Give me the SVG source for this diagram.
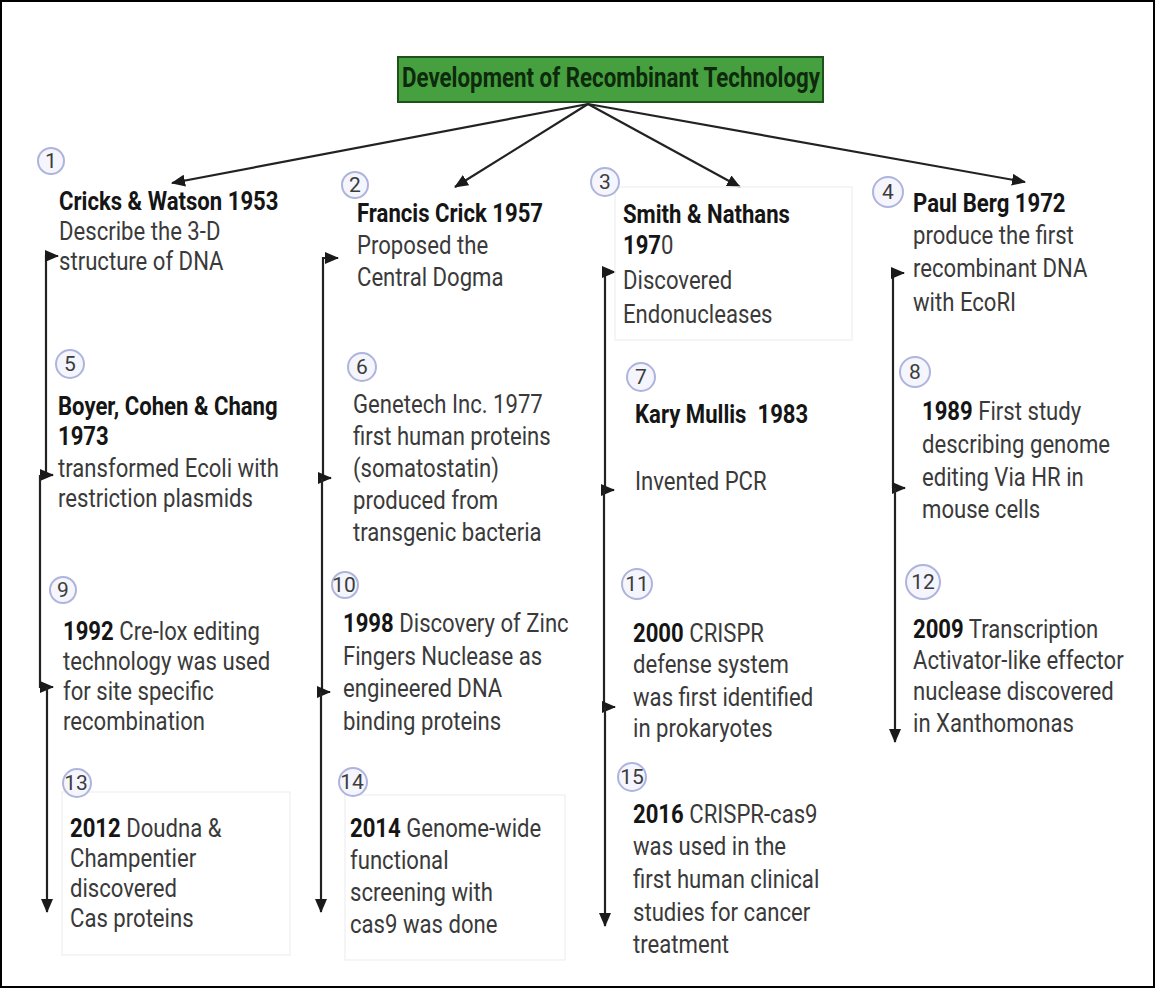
<svg xmlns="http://www.w3.org/2000/svg" width="1155" height="989" viewBox="0 0 1155 989">
<style>
.t{font-family:Roboto,"Liberation Sans",sans-serif;font-size:25px;fill:#3a3a3a}
.b{font-weight:bold;fill:#151515}
.num{font-family:Roboto,"Liberation Sans",sans-serif;font-size:21px;fill:#3c3c3c;text-anchor:middle}
.c{fill:#f4f5fd;stroke:#aeb4dc;stroke-width:2}
.faint{fill:none;stroke:#f2f2f2;stroke-width:1.5}
.ln{fill:none;stroke:#222;stroke-width:2.2}
</style>
<defs>
<marker id="arr" markerUnits="userSpaceOnUse" markerWidth="14" markerHeight="12" refX="13" refY="6" orient="auto">
<path d="M0,0 L14,6 L0,12 z" fill="#1a1a1a"/>
</marker>
</defs>
<rect x="1" y="1" width="1153" height="986" fill="#fff" stroke="#000" stroke-width="2"/>

<g id="title">
<rect x="398" y="57" width="425" height="45" fill="#46a040" stroke="#1d521b" stroke-width="2"/>
<text x="402" y="87" font-family="Roboto,'Liberation Sans',sans-serif" font-size="28" font-weight="bold" fill="#0e2a0c" textLength="418" lengthAdjust="spacingAndGlyphs">Development of Recombinant Technology</text>
</g>

<g id="connectors">
<path class="ln" d="M588,104 L172,183" marker-end="url(#arr)"/>
<path class="ln" d="M588,104 L455,187" marker-end="url(#arr)"/>
<path class="ln" d="M588,104 L740,187" marker-end="url(#arr)"/>
<path class="ln" d="M588,104 L1025,182" marker-end="url(#arr)"/>

<path class="ln" d="M46,475 V256 H58" marker-end="url(#arr)"/>
<path class="ln" d="M40,475 H53" marker-end="url(#arr)"/>
<path class="ln" d="M40,475 V687 H53" marker-end="url(#arr)"/>
<path class="ln" d="M47,687 V912" marker-end="url(#arr)"/>

<path class="ln" d="M323,478 V258 H338" marker-end="url(#arr)"/>
<path class="ln" d="M322,478 H331" marker-end="url(#arr)"/>
<path class="ln" d="M322,478 V692 H330" marker-end="url(#arr)"/>
<path class="ln" d="M321,692 V912" marker-end="url(#arr)"/>

<path class="ln" d="M605,490 V272 H615" marker-end="url(#arr)"/>
<path class="ln" d="M604,490 H614" marker-end="url(#arr)"/>
<path class="ln" d="M604,490 V707 H615" marker-end="url(#arr)"/>
<path class="ln" d="M605,707 V926" marker-end="url(#arr)"/>

<path class="ln" d="M893,488 V273 H904" marker-end="url(#arr)"/>
<path class="ln" d="M893,488 H905" marker-end="url(#arr)"/>
<path class="ln" d="M895,488 V742" marker-end="url(#arr)"/>
</g>

<g id="n1">
<circle class="c" cx="51" cy="161" r="13"/><text class="num" x="51" y="168">1</text>
<g transform="translate(59,0) scale(0.885,1)">
<text class="t b" x="0" y="210">Cricks &amp; Watson 1953</text>
<text class="t" x="0" y="240">Describe the 3-D</text>
<text class="t" x="0" y="270">structure of DNA</text>
</g>
</g>

<g id="n5">
<circle class="c" cx="70" cy="364" r="14"/><text class="num" x="70" y="371">5</text>
<g transform="translate(58,0) scale(0.885,1)">
<text class="t b" x="0" y="415">Boyer, Cohen &amp; Chang</text>
<text class="t b" x="0" y="445">1973</text>
<text class="t" x="0" y="477">transformed Ecoli with</text>
<text class="t" x="0" y="507">restriction plasmids</text>
</g>
</g>

<g id="n9">
<circle class="c" cx="63" cy="590" r="13"/><text class="num" x="63" y="597">9</text>
<g transform="translate(63,0) scale(0.885,1)">
<text class="t" x="0" y="640"><tspan class="b">1992</tspan> Cre-lox editing</text>
<text class="t" x="0" y="670">technology was used</text>
<text class="t" x="0" y="700">for site specific</text>
<text class="t" x="0" y="730">recombination</text>
</g>
</g>

<g id="n13">
<rect class="faint" x="62" y="792" width="228" height="163"/>
<circle class="c" cx="77" cy="783" r="14"/><text class="num" x="76" y="790">13</text>
<g transform="translate(70,0) scale(0.885,1)">
<text class="t" x="0" y="837"><tspan class="b">2012</tspan> Doudna &amp;</text>
<text class="t" x="0" y="867">Champentier</text>
<text class="t" x="0" y="897">discovered</text>
<text class="t" x="0" y="927">Cas proteins</text>
</g>
</g>

<g id="n2">
<circle class="c" cx="355" cy="185" r="13"/><text class="num" x="355" y="192">2</text>
<g transform="translate(357,0) scale(0.885,1)">
<text class="t b" x="0" y="222">Francis Crick 1957</text>
<text class="t" x="0" y="254">Proposed the</text>
<text class="t" x="0" y="286">Central Dogma</text>
</g>
</g>

<g id="n6">
<circle class="c" cx="362" cy="367" r="14"/><text class="num" x="362" y="374">6</text>
<g transform="translate(353,0) scale(0.885,1)">
<text class="t" x="0" y="413">Genetech Inc. 1977</text>
<text class="t" x="0" y="445">first human proteins</text>
<text class="t" x="0" y="477">(somatostatin)</text>
<text class="t" x="0" y="509">produced from</text>
<text class="t" x="0" y="541">transgenic bacteria</text>
</g>
</g>

<g id="n10">
<circle class="c" cx="345" cy="585" r="13"/><text class="num" x="344" y="592">10</text>
<g transform="translate(343,0) scale(0.885,1)">
<text class="t" x="0" y="632"><tspan class="b">1998</tspan> Discovery of Zinc</text>
<text class="t" x="0" y="665">Fingers Nuclease as</text>
<text class="t" x="0" y="697">engineered DNA</text>
<text class="t" x="0" y="730">binding proteins</text>
</g>
</g>

<g id="n14">
<rect class="faint" x="345" y="795" width="220" height="165"/>
<circle class="c" cx="353" cy="782" r="14"/><text class="num" x="352" y="789">14</text>
<g transform="translate(350,0) scale(0.885,1)">
<text class="t" x="0" y="837"><tspan class="b">2014</tspan> Genome-wide</text>
<text class="t" x="0" y="869">functional</text>
<text class="t" x="0" y="901">screening with</text>
<text class="t" x="0" y="933">cas9 was done</text>
</g>
</g>

<g id="n3">
<rect class="faint" x="615" y="187" width="237" height="153"/>
<circle class="c" cx="605" cy="182" r="14"/><text class="num" x="605" y="189">3</text>
<g transform="translate(623,0) scale(0.885,1)">
<text class="t b" x="0" y="223">Smith &amp; Nathans</text>
<text class="t" x="0" y="254"><tspan class="b">197</tspan>0</text>
<text class="t" x="0" y="289">Discovered</text>
<text class="t" x="0" y="323">Endonucleases</text>
</g>
</g>

<g id="n7">
<circle class="c" cx="641" cy="377" r="14"/><text class="num" x="641" y="384">7</text>
<g transform="translate(635,0) scale(0.885,1)">
<text class="t b" x="0" y="423" xml:space="preserve">Kary Mullis  1983</text>
<text class="t" x="0" y="490">Invented PCR</text>
</g>
</g>

<g id="n11">
<circle class="c" cx="637" cy="584" r="15"/><text class="num" x="637" y="591">11</text>
<g transform="translate(633,0) scale(0.885,1)">
<text class="t" x="0" y="642"><tspan class="b">2000</tspan> CRISPR</text>
<text class="t" x="0" y="673">defense system</text>
<text class="t" x="0" y="706">was first identified</text>
<text class="t" x="0" y="737">in prokaryotes</text>
</g>
</g>

<g id="n15">
<circle class="c" cx="632" cy="777" r="14"/><text class="num" x="632" y="784">15</text>
<g transform="translate(633,0) scale(0.885,1)">
<text class="t" x="0" y="823"><tspan class="b">2016</tspan> CRISPR-cas9</text>
<text class="t" x="0" y="855">was used in the</text>
<text class="t" x="0" y="888">first human clinical</text>
<text class="t" x="0" y="921">studies for cancer</text>
<text class="t" x="0" y="953">treatment</text>
</g>
</g>

<g id="n4">
<circle class="c" cx="888" cy="192" r="15"/><text class="num" x="888" y="199">4</text>
<g transform="translate(913,0) scale(0.885,1)">
<text class="t b" x="0" y="212">Paul Berg 1972</text>
<text class="t" x="0" y="244">produce the first</text>
<text class="t" x="0" y="277">recombinant DNA</text>
<text class="t" x="0" y="311">with EcoRI</text>
</g>
</g>

<g id="n8">
<circle class="c" cx="915" cy="372" r="15"/><text class="num" x="915" y="379">8</text>
<g transform="translate(922,0) scale(0.885,1)">
<text class="t" x="0" y="420"><tspan class="b">1989</tspan> First study</text>
<text class="t" x="0" y="453">describing genome</text>
<text class="t" x="0" y="486">editing Via HR in</text>
<text class="t" x="0" y="518">mouse cells</text>
</g>
</g>

<g id="n12">
<circle class="c" cx="923" cy="582" r="17"/><text class="num" x="923" y="589">12</text>
<g transform="translate(913,0) scale(0.885,1)">
<text class="t" x="0" y="638"><tspan class="b">2009</tspan> Transcription</text>
<text class="t" x="0" y="669">Activator-like effector</text>
<text class="t" x="0" y="700">nuclease discovered</text>
<text class="t" x="0" y="732">in Xanthomonas</text>
</g>
</g>
</svg>
